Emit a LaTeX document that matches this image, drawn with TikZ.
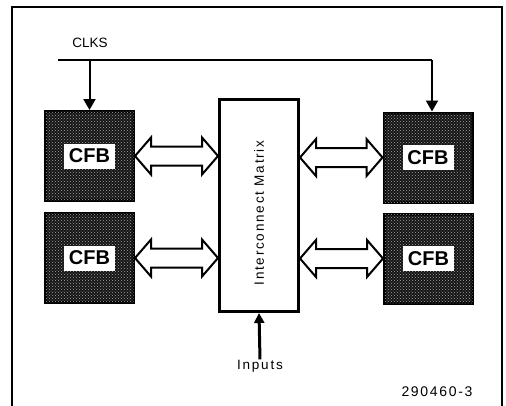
\documentclass[tikz,border=0pt]{standalone}
\usepackage{fontspec}
\setmainfont{Liberation Sans}
\newfontfamily\spaced[LetterSpace=13]{Liberation Sans}
\newfontfamily\spacedb[LetterSpace=12]{Liberation Sans}
\usetikzlibrary{arrows.meta,calc,patterns}
\tikzset{
  cfb/.style={draw=black, line width=3pt, fill=black!92, minimum width=88pt, minimum height=89pt, inner sep=0pt,
    postaction={pattern=crosshatch dots, pattern color=black!35}},
  cfblabel/.style={fill=white, inner sep=0pt, minimum width=51pt, minimum height=25pt, font=\bfseries\fontsize{20}{22}\selectfont},
  matrixbox/.style={draw=black, line width=3pt, fill=white, minimum width=79pt, minimum height=212pt, inner sep=0pt},
  dbarrow/.style={draw=black, line width=2pt, fill=white, line join=miter},
  clkline/.style={line width=2pt},
  clkarrow/.style={line width=2pt, -{Triangle[width=12pt,length=11pt]}},
  inarrow/.style={line width=3pt, -{Triangle[width=10pt,length=10pt]}},
  frame/.style={line width=2pt},
  txt/.style={font=\spaced\fontsize{13.5}{15}\selectfont},
}
\newcommand{\dbar}[2]{%
  \draw[dbarrow] (#1) -- ([shift={(16,-18.5)}]#1) -- ([shift={(16,-9.5)}]#1)
    -- ([shift={(-16,-9.5)}]#2) -- ([shift={(-16,-18.5)}]#2) -- (#2)
    -- ([shift={(-16,18.5)}]#2) -- ([shift={(-16,9.5)}]#2)
    -- ([shift={(16,9.5)}]#1) -- ([shift={(16,18.5)}]#1) -- cycle;}
\begin{document}
\begin{tikzpicture}[x=1pt,y=-1pt]
\useasboundingbox (0,0) rectangle (506,405);
% frame
\draw[frame] (12,406) -- (12,7) -- (502,7) -- (502,406);
% blocks
\node[cfb] (cfb1) at (89.5,156) {};
\node[cfb] (cfb2) at (89.5,258) {};
\node[cfb] (cfb3) at (428,157.5) {};
\node[cfb] (cfb4) at (428.5,258.5) {};
\node[cfblabel] (l1) at (cfb1) {CFB};
\node[cfblabel] (l2) at (cfb2) {CFB};
\node[cfblabel] (l3) at (cfb3) {CFB};
\node[cfblabel] (l4) at (cfb4) {CFB};
\node[matrixbox] (mx) at (259,205.5) {};
\node[rotate=90, txt] (mxt) at (259,213) {Interconnect Matrix};
% double arrows
\coordinate (a1) at (cfb1.east);
\coordinate (b1) at (mx.west |- cfb1.east);
\coordinate (a2) at (cfb2.east);
\coordinate (b2) at (mx.west |- cfb2.east);
\coordinate (a3) at (mx.east |- cfb3.west);
\coordinate (b3) at (cfb3.west);
\coordinate (a4) at (mx.east |- cfb4.west);
\coordinate (b4) at (cfb4.west);
\dbar{a1}{b1}
\dbar{a2}{b2}
\dbar{a3}{b3}
\dbar{a4}{b4}
% clocks
\node[font=\fontsize{13.5}{15}\selectfont] (clks) at (90,43) {CLKS};
\coordinate (clk) at (58,60);
\coordinate (clkr) at ([xshift=4]cfb3.north);
\draw[clkline] (clk) -- (clkr |- clk);
\draw[clkarrow] (clkr |- clk) -- (clkr);
\draw[clkarrow] (cfb1.north |- clk) -- (cfb1.north);
% inputs
\node[txt] (inp) at (260,366) {Inputs};
\draw[inarrow] ([yshift=-3]inp.north) -- (mx.south);
% figure number
\node[font=\spacedb\fontsize{14}{16}\selectfont] (fig) at (437,392) {290460-3};
\end{tikzpicture}
\end{document}
